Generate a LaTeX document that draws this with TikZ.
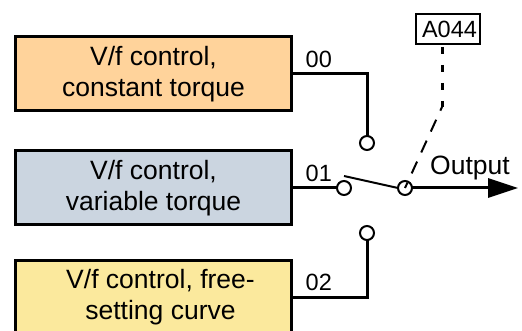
\documentclass[tikz,border=0pt]{standalone}
\usepackage{fontspec}
\setmainfont{Liberation Sans}
\usetikzlibrary{arrows.meta,positioning}
\definecolor{boxorange}{HTML}{FFD39B}
\definecolor{boxblue}{HTML}{CBD5E0}
\definecolor{boxyellow}{HTML}{FBE99D}
\tikzset{
  sel/box/.style={
    draw,
    line width=3pt,
    minimum width=276pt,
    minimum height=74pt,
    outer sep=0pt,
    align=center,
    font=\fontsize{26.5}{31}\selectfont
  },
  sel/contact/.style={
    circle,
    draw,
    fill=white,
    line width=2pt,
    minimum size=14pt,
    inner sep=0pt,
    outer sep=0pt
  },
  sel/wire/.style={line width=3pt},
  sel/code/.style={inner sep=0pt, font=\fontsize{23.5}{28}\selectfont},
  sel/out/.style={line width=3pt, -{Triangle[length=30pt,width=19pt]}}
}

\begin{document}
\begin{tikzpicture}[x=1pt, y=-1pt]
\useasboundingbox (0,0) rectangle (522,331);

\node (torqconst) [sel/box, fill=boxorange] at (153.5,74) {V/f control,\\constant torque};
\node (torqvar) [sel/box, fill=boxblue, below=40pt of torqconst] {V/f control,\\variable torque};
\node (torqfree) [sel/box, fill=boxyellow, below=35pt of torqvar]
  {\hspace*{14pt}V/f control, free-\\\hspace*{14pt}setting curve};

\node (lblzero) [sel/code, above right=6pt and 14pt of torqconst.east] {00};
\node (lblone) [sel/code, above right=6pt and 14pt of torqvar.east] {01};
\node (lbltwo) [sel/code, above right=6pt and 14pt of torqfree.east] {02};

\node (conzero) [sel/contact] at (367,143) {};
\node (conone) [sel/contact] at (344,188) {};
\node (contwo) [sel/contact] at (367,233) {};
\node (pivot) [sel/contact] at (405,188) {};

\node (param) [draw, line width=2pt, minimum width=64pt, minimum height=30pt, inner sep=0pt,
  outer sep=0pt, font=\fontsize{23.5}{28}\selectfont] at (448,29) {\hspace*{3pt}A044};
\node (outlbl) [anchor=base west, inner sep=0pt, font=\fontsize{26.5}{31}\selectfont] at (430,175) {Output};

\coordinate (armtip) at (344,176);
\coordinate (bend) at (442,107);
\coordinate (outend) at (518,188);

% --- wires to the contacts
\draw[sel/wire] (torqconst.east) -| (conzero.north);
\draw[sel/wire] (torqvar.east) -- (conone.west);
\draw[sel/wire] (torqfree.east) -| (contwo.south);

% --- switch arm and output
\draw[line width=2pt] (armtip) -- (pivot.west);
\draw[sel/out] (pivot.east) -- (outend);

% --- parameter link
\draw[line width=3pt, dash pattern=on 7pt off 11pt] ([yshift=-3pt]param.south -| bend) -- (bend);
\draw[line width=2pt, dash pattern=on 13pt off 10pt, dash phase=9pt] (bend) -- (pivot.center);

\end{tikzpicture}
\end{document}
